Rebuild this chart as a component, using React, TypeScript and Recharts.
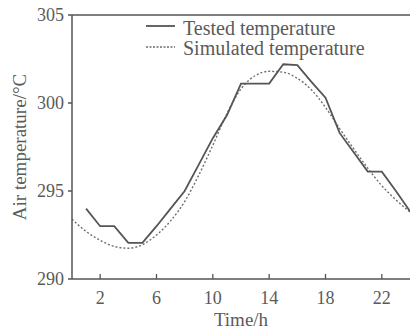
import { Line, LineChart, ReferenceLine, XAxis, YAxis } from "recharts";

const hours = [0, 1, 2, 3, 4, 5, 6, 7, 8, 9, 10, 11, 12, 13, 14, 15, 16, 17, 18, 19, 20, 21, 22, 23, 24];
const tested = [null, 294.0, 293.0, 293.0, 292.05, 292.05, 293.0, 294.0, 295.0, 296.5, 298.0, 299.3, 301.1, 301.1, 301.1, 302.2, 302.15, 301.2, 300.3, 298.3, 297.2, 296.1, 296.1, 295.0, 293.85];
const simulated = [293.4, 292.7, 292.2, 291.85, 291.75, 291.95, 292.5, 293.3, 294.4, 295.9, 297.6, 299.4, 300.8, 301.55, 301.8, 301.75, 301.4, 300.75, 299.75, 298.55, 297.4, 296.3, 295.3, 294.5, 293.8];
const xTicks = [2, 6, 10, 14, 18, 22];
const yTicks = [290, 295, 300, 305];

const data = hours.map((h, i) => ({ hour: h, tested: tested[i], simulated: simulated[i] }));

const FONT = "'Liberation Serif', 'DejaVu Serif', serif";
const INK = "#5a5a5a";
const LINE = "#555";
const DASH = "#6e6e6e";

function XTick(props: any) {
  const { x, y, payload } = props;
  return (
    <g>
      <line x1={x} x2={x} y1={y} y2={y - 5} stroke={LINE} strokeWidth={1.3} />
      <text x={x} y={y + 25} textAnchor="middle" fontSize={18} fill={INK} fontFamily={FONT}>
        {payload.value}
      </text>
    </g>
  );
}

export default function App() {
  return (
    <div style={{ position: "absolute", left: 0, top: 0, width: 410, height: 329, background: "#fff" }}>
      <LineChart width={410} height={329} data={data} margin={{ top: 15, right: 0, bottom: 0, left: 0 }}>
        <XAxis
          dataKey="hour"
          type="number"
          domain={[0, 24]}
          ticks={xTicks}
          tick={<XTick />}
          tickLine={false}
          tickSize={0}
          tickMargin={0}
          height={50}
          stroke={LINE}
          strokeWidth={1.5}
          label={{
            content: (p: any) => {
              const vb = p.viewBox;
              return (
                <text x={vb.x + vb.width / 2} y={326} textAnchor="middle" fontSize={19} fill={INK} fontFamily={FONT}>
                  Time/h
                </text>
              );
            },
          }}
        />
        <YAxis
          domain={[290, 305]}
          ticks={yTicks}
          width={72}
          tickSize={4}
          tickMargin={4}
          stroke={LINE}
          strokeWidth={1.5}
          tick={{ fontSize: 18, fill: INK, fontFamily: FONT }}
          label={{
            content: (p: any) => {
              const vb = p.viewBox;
              const cx = 19;
              const cy = vb.y + vb.height / 2;
              return (
                <text
                  x={cx}
                  y={cy}
                  transform={`rotate(-90 ${cx} ${cy})`}
                  textAnchor="middle"
                  dominantBaseline="central"
                  fontSize={19}
                  fill={INK}
                  fontFamily={FONT}
                >
                  Air temperature/°C
                </text>
              );
            },
          }}
        />
        <ReferenceLine y={305} stroke={LINE} strokeWidth={1.5} />
        <Line
          dataKey="simulated"
          type="monotone"
          stroke={DASH}
          strokeWidth={1.4}
          strokeDasharray="2 2"
          dot={false}
          isAnimationActive={false}
        />
        <Line
          dataKey="tested"
          type="linear"
          stroke={LINE}
          strokeWidth={1.8}
          dot={false}
          connectNulls={false}
          isAnimationActive={false}
        />
      </LineChart>
      <div style={{ position: "absolute", left: 145, top: 18, fontFamily: FONT, fontSize: 20, color: INK, lineHeight: "20px" }}>
        <div style={{ display: "flex", alignItems: "center", height: 20 }}>
          <svg width={32} height={20}>
            <line x1={1} x2={30} y1={8} y2={8} stroke={LINE} strokeWidth={1.8} />
          </svg>
          <span style={{ marginLeft: 6 }}>Tested temperature</span>
        </div>
        <div style={{ display: "flex", alignItems: "center", height: 20 }}>
          <svg width={32} height={20}>
            <line x1={1} x2={30} y1={9} y2={9} stroke={DASH} strokeWidth={1.4} strokeDasharray="2 1.5" />
          </svg>
          <span style={{ marginLeft: 6 }}>Simulated temperature</span>
        </div>
      </div>
    </div>
  );
}
